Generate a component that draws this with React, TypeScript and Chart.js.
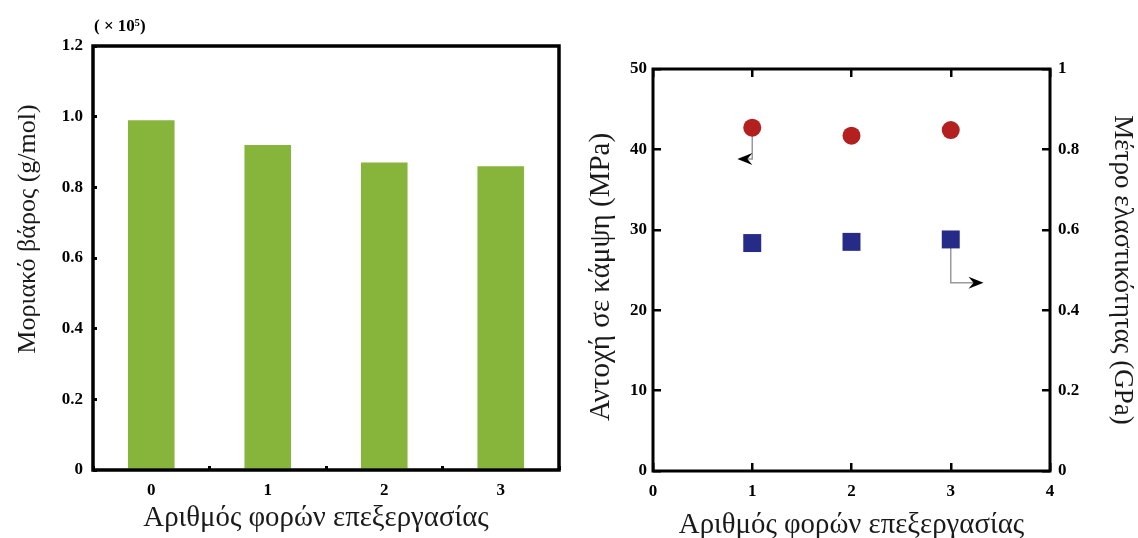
import React, { useEffect, useRef } from 'react';
import { Chart, registerables } from 'chart.js';

Chart.register(...registerables);

// Molecular weight after repeated processing (values in units of 10^5 g/mol)
const passCategories = ['0', '1', '2', '3'];
const molecularWeight = [0.99, 0.92, 0.87, 0.86];
const molUnitNote = '( × 10⁵)';

// Flexural strength (MPa, left axis) and elastic modulus (GPa, right axis)
const passCounts = [1, 2, 3];
const flexuralStrength = [42.7, 41.7, 42.4];
const elasticModulus = [0.567, 0.57, 0.576];

// Leader arrows telling which axis each series belongs to
const strengthLeader = { x: 1, y: 42.7, bendY: 38.8, endX: 0.85, axis: 'y' };
const modulusLeader = { x: 3, y: 0.576, bendY: 0.468, endX: 3.33, axis: 'y2' };

const xTitle = 'Αριθμός φορών επεξεργασίας';
const molTitle = 'Μοριακό βάρος (g/mol)';
const strengthTitle = 'Αντοχή σε κάμψη (MPa)';
const modulusTitle = 'Μέτρο ελαστικότητας (GPa)';

const SERIF = '"Liberation Serif", "Times New Roman", serif';
const INK = '#1a1a1a';
const tickFont = { family: SERIF, size: 17, weight: 'bold' as const };
const xTitleFont = { family: SERIF, size: 28.8, lineHeight: 1 };

// Heavy rectangle around the plotting area
const framePlugin = {
  id: 'frame',
  afterDraw(chart: any, _args: any, opts: any) {
    const { ctx, chartArea: a } = chart;
    ctx.save();
    ctx.strokeStyle = '#000';
    ctx.lineWidth = opts.width ?? 3;
    ctx.lineJoin = 'miter';
    ctx.strokeRect(a.left, a.top, a.right - a.left, a.bottom - a.top);
    ctx.restore();
  },
};

// Multiplier note above the y axis
const unitNotePlugin = {
  id: 'unitNote',
  afterDraw(chart: any, _args: any, opts: any) {
    const { ctx, chartArea: a } = chart;
    ctx.save();
    ctx.fillStyle = '#000';
    ctx.font = `bold 17px ${SERIF}`;
    ctx.textBaseline = 'middle';
    ctx.textAlign = 'left';
    ctx.fillText(opts.text, a.left + 1, a.top - 19);
    ctx.restore();
  },
};

// Free-standing axis titles (optionally rotated)
const freeTitlePlugin = {
  id: 'freeTitle',
  afterDraw(chart: any, _args: any, opts: any) {
    const { ctx } = chart;
    for (const t of opts.items ?? []) {
      ctx.save();
      ctx.fillStyle = INK;
      ctx.font = `${t.size}px ${SERIF}`;
      ctx.textAlign = 'center';
      ctx.textBaseline = 'middle';
      ctx.translate(t.x, t.y);
      ctx.rotate(t.rotation ?? 0);
      ctx.fillText(t.text, 0, 0);
      ctx.restore();
    }
  },
};

function drawLeader(chart: any, lead: typeof strengthLeader) {
  const { ctx } = chart;
  const xs = chart.scales.x;
  const ys = chart.scales[lead.axis];
  const px = xs.getPixelForValue(lead.x);
  const py = ys.getPixelForValue(lead.y);
  const by = ys.getPixelForValue(lead.bendY);
  const ex = xs.getPixelForValue(lead.endX);
  const dir = ex < px ? -1 : 1;
  ctx.save();
  ctx.strokeStyle = '#9a9a9a';
  ctx.lineWidth = 1.5;
  ctx.beginPath();
  ctx.moveTo(px, py);
  ctx.lineTo(px, by);
  ctx.lineTo(ex - dir * 6, by);
  ctx.stroke();
  ctx.fillStyle = '#000';
  ctx.beginPath();
  ctx.moveTo(ex, by);
  ctx.lineTo(ex - dir * 15, by - 6);
  ctx.lineTo(ex - dir * 10, by);
  ctx.lineTo(ex - dir * 15, by + 6);
  ctx.closePath();
  ctx.fill();
  ctx.restore();
}

const leaderPlugin = {
  id: 'leaders',
  beforeDatasetsDraw(chart: any) {
    drawLeader(chart, strengthLeader);
    drawLeader(chart, modulusLeader);
  },
};

const trimDecimal = (v: any) => String(Number(Number(v).toFixed(1)));

export default function App() {
  const leftRef = useRef<HTMLCanvasElement>(null);
  const rightRef = useRef<HTMLCanvasElement>(null);

  useEffect(() => {
    const left = new Chart(leftRef.current!, {
      type: 'bar',
      data: {
        labels: passCategories,
        datasets: [
          {
            data: molecularWeight,
            backgroundColor: '#87b53c',
            barPercentage: 0.4,
            categoryPercentage: 1,
          },
        ],
      },
      options: {
        animation: false,
        responsive: true,
        maintainAspectRatio: false,
        layout: { padding: { left: 0, top: 46, right: 11, bottom: 0 } },
        plugins: {
          legend: { display: false },
          tooltip: { enabled: false },
          frame: { width: 3.5 },
          unitNote: { text: molUnitNote },
          freeTitle: {
            items: [
              { text: molTitle, x: 28, y: 229, size: 26, rotation: -Math.PI / 2 },
              { text: xTitle, x: 316, y: 518, size: 28.8 },
            ],
          },
        } as any,
        scales: {
          x: {
            type: 'category',
            grid: { drawOnChartArea: false, offset: true, tickLength: -4, lineWidth: 3, color: '#000' },
            border: { display: false },
            ticks: { font: tickFont, color: '#000', padding: 14 },
            afterFit: (s: any) => { s.height = 68; },
          },
          y: {
            min: 0,
            max: 1.2,
            grid: { drawOnChartArea: false, tickLength: -4, lineWidth: 3, color: '#000' },
            border: { display: false },
            ticks: {
              stepSize: 0.2,
              font: tickFont,
              color: '#000',
              padding: 14,
              callback: (v: any) => (Number(v) === 0 ? '0' : Number(v).toFixed(1)),
            },
            afterFit: (s: any) => { s.width = 93; },
          },
        },
      },
      plugins: [framePlugin, unitNotePlugin, freeTitlePlugin],
    } as any);

    const inwardGrid = { drawOnChartArea: false, tickLength: -8, lineWidth: 2.5, color: '#000' };

    const right = new Chart(rightRef.current!, {
      type: 'scatter',
      data: {
        datasets: [
          {
            data: passCounts.map((x, i) => ({ x, y: flexuralStrength[i] })),
            xAxisID: 'x',
            yAxisID: 'y',
            pointStyle: 'circle',
            pointRadius: 9,
            backgroundColor: '#b3201f',
            borderWidth: 0,
          },
          {
            data: passCounts.map((x, i) => ({ x, y: elasticModulus[i] })),
            xAxisID: 'x',
            yAxisID: 'y2',
            pointStyle: 'rect',
            pointRadius: 12.7,
            backgroundColor: '#262b87',
            borderWidth: 0,
          },
        ],
      },
      options: {
        animation: false,
        responsive: true,
        maintainAspectRatio: false,
        layout: { padding: 0 },
        plugins: {
          legend: { display: false },
          tooltip: { enabled: false },
          frame: { width: 3 },
          freeTitle: {
            items: [{ text: strengthTitle, x: 31, y: 277, size: 29, rotation: -Math.PI / 2 }],
          },
        } as any,
        scales: {
          x: {
            type: 'linear',
            position: 'bottom',
            min: 0,
            max: 4,
            grid: inwardGrid,
            border: { display: false },
            ticks: { stepSize: 1, font: tickFont, color: '#000', padding: 18 },
            title: { display: true, text: xTitle, font: xTitleFont, color: INK, padding: { top: 0, bottom: -1.4 } },
            afterFit: (s: any) => { s.height = 67; },
          },
          x2: {
            type: 'linear',
            position: 'top',
            min: 0,
            max: 4,
            grid: inwardGrid,
            border: { display: false },
            ticks: { stepSize: 1, display: false },
            afterFit: (s: any) => { s.height = 69; },
          },
          y: {
            type: 'linear',
            position: 'left',
            min: 0,
            max: 50,
            grid: inwardGrid,
            border: { display: false },
            ticks: { stepSize: 10, font: tickFont, color: '#000', padding: 14 },
            afterFit: (s: any) => { s.width = 83; },
          },
          y2: {
            type: 'linear',
            position: 'right',
            min: 0,
            max: 1,
            grid: inwardGrid,
            border: { display: false },
            ticks: { stepSize: 0.2, font: tickFont, color: '#000', padding: 16, callback: trimDecimal },
            title: {
              display: true,
              text: modulusTitle,
              font: { family: SERIF, size: 27, lineHeight: 1 },
              color: INK,
              padding: { top: 2.5, bottom: 0 },
            },
            afterFit: (s: any) => { s.width = 88; },
          },
        },
      },
      plugins: [framePlugin, leaderPlugin, freeTitlePlugin],
    } as any);

    return () => {
      left.destroy();
      right.destroy();
    };
  }, []);

  return (
    <div style={{ position: 'fixed', left: 0, top: 0, width: 1138, height: 538, background: '#fff' }}>
      <div style={{ position: 'absolute', left: 0, top: 0, width: 570, height: 538 }}>
        <canvas ref={leftRef} />
      </div>
      <div style={{ position: 'absolute', left: 570, top: 0, width: 568, height: 538 }}>
        <canvas ref={rightRef} />
      </div>
    </div>
  );
}
